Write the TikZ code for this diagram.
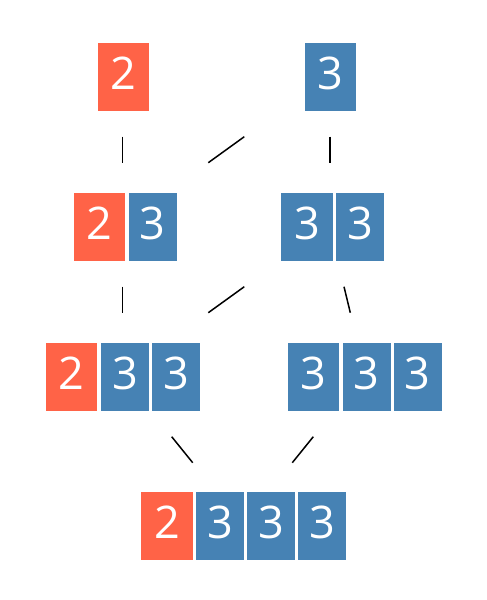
\documentclass[tikz,border=0pt]{standalone}
\usepackage{fontspec}
\setmainfont{Open Sans}
\usetikzlibrary{calc}
\definecolor{boxred}{HTML}{FF6347}
\definecolor{boxblue}{HTML}{4682B4}
\tikzset{
  cell/.style={anchor=north west, inner sep=0pt, minimum height=68pt, text=white,
    font=\fontsize{45}{45}\selectfont},
  redcell/.style={cell, fill=boxred},
  bluecell/.style={cell, fill=boxblue},
  wide/.style={minimum width=51.5pt},
  narrow/.style={minimum width=48pt},
  link/.style={draw=black, line width=1.5pt},
}
\newcommand{\dg}[1]{\raisebox{6.5pt}{#1}}
\begin{document}
\begin{tikzpicture}[x=1pt,y=-1pt]
\useasboundingbox (0,0) rectangle (487,600);
% row 1
\node[redcell,wide] (a1) at (97.3,42.7) {\dg{2}};
\node[bluecell,wide] (b1) at (304.5,42.7) {\dg{3}};
% row 2
\node[redcell,wide] (c1) at (73.3,192.3) {\dg{2}};
\node[bluecell,narrow] (c2) at (128.3,192.3) {\dg{3}};
\node[bluecell,wide] (d1) at (281,192.3) {\dg{3}};
\node[bluecell,narrow] (d2) at (336,192.3) {\dg{3}};
% row 3
\node[redcell,wide] (e1) at (45.7,342.3) {\dg{2}};
\node[bluecell,narrow] (e2) at (100.7,342.3) {\dg{3}};
\node[bluecell,narrow] (e3) at (151.7,342.3) {\dg{3}};
\node[bluecell,wide] (f1) at (287.3,342.4) {\dg{3}};
\node[bluecell,narrow] (f2) at (342.3,342.4) {\dg{3}};
\node[bluecell,narrow] (f3) at (393.5,342.4) {\dg{3}};
% row 4
\node[redcell,wide] (g1) at (141,491.7) {\dg{2}};
\node[bluecell,narrow] (g2) at (196,491.7) {\dg{3}};
\node[bluecell,narrow] (g3) at (247,491.7) {\dg{3}};
\node[bluecell,narrow] (g4) at (298,491.7) {\dg{3}};
% connector end points
\coordinate (ac1) at (122.7,136.7); \coordinate (ac2) at (122.7,162.7);
\coordinate (bc1) at (244.3,136.7); \coordinate (bc2) at (208.3,162.7);
\coordinate (bd1) at (330.2,136.7); \coordinate (bd2) at (330.2,162.7);
\coordinate (ce1) at (122.7,286.7); \coordinate (ce2) at (122.7,312.7);
\coordinate (de1) at (244.3,286.7); \coordinate (de2) at (208.3,312.7);
\coordinate (df1) at (344.0,286.7); \coordinate (df2) at (350.3,312.7);
\coordinate (eg1) at (171.7,436.7); \coordinate (eg2) at (192.7,462.7);
\coordinate (fg1) at (313.3,436.7); \coordinate (fg2) at (292.3,462.7);
\foreach \l in {ac,bc,bd,ce,de,df,eg,fg}{
  \draw[link] (\l1) -- (\l2);
}
\end{tikzpicture}
\end{document}
